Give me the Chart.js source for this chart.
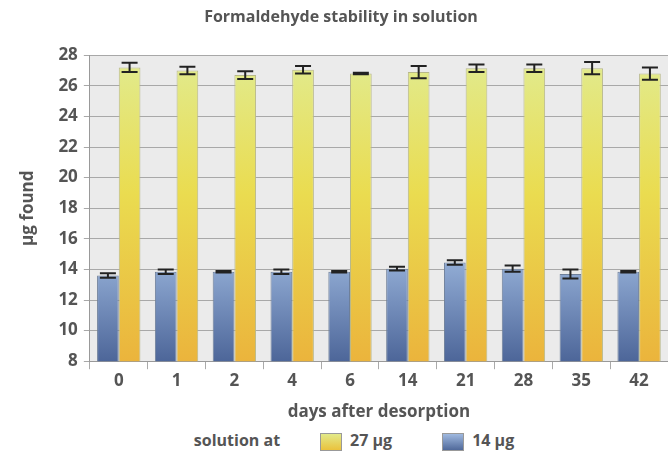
<!DOCTYPE html>
<html>
<head>
<meta charset="utf-8">
<script src="https://cdn.jsdelivr.net/npm/chart.js@4"></script>
<style>
  body { margin: 0; background: #fff; font-family: "Open Sans", sans-serif; }
  #wrap { position: relative; width: 668px; height: 426px; }
  #legend { display: flex; align-items: center; justify-content: center; gap: 10px;
    font-weight: bold; font-size: 16px; color: #555; margin-top: 3px; padding-left: 40px; }
  .box { display: inline-block; width: 20px; height: 16px; border: 1px solid #999; vertical-align: middle; margin: 0 8px 0 30px; }
</style>
</head>
<body>
<div id="wrap"><canvas id="c"></canvas></div>
<div id="legend">
  <span>solution at</span>
  <span><span class="box" style="background:linear-gradient(#e2ea8a,#eac23c)"></span>27 µg</span>
  <span><span class="box" style="background:linear-gradient(#9fb9e0,#50699a);margin-left:40px"></span>14 µg</span>
</div>
<script>
// ── Data ──────────────────────────────────────────────────────────────────────
const days = ["0", "1", "2", "4", "6", "14", "21", "28", "35", "42"];
const found14 = [13.6, 13.85, 13.85, 13.85, 13.85, 14.05, 14.45, 14.05, 13.7, 13.85];
const err14   = [0.15, 0.15, 0.05, 0.15, 0.05, 0.12, 0.15, 0.2, 0.3, 0.05];
const found27 = [27.2, 27.0, 26.7, 27.05, 26.8, 26.9, 27.15, 27.15, 27.15, 26.8];
const err27   = [0.3, 0.25, 0.25, 0.25, 0.05, 0.4, 0.25, 0.25, 0.4, 0.4];

const TXT = "#555";
const FONT = "'Open Sans', sans-serif";

function grad(ctx, area, stops) {
  const g = ctx.createLinearGradient(0, area.top, 0, area.bottom);
  stops.forEach(([p, c]) => g.addColorStop(p, c));
  return g;
}

// plot background
const bgPlugin = {
  id: "bg",
  beforeDraw(chart) {
    const { ctx, chartArea: a } = chart;
    ctx.save();
    ctx.fillStyle = "#ebebeb";
    ctx.fillRect(a.left, a.top, a.right - a.left, a.bottom - a.top);
    ctx.restore();
  },
};

// error bars from the named error arrays
const errPlugin = {
  id: "err",
  afterDatasetsDraw(chart) {
    const { ctx } = chart;
    const y = chart.scales.y;
    ctx.save();
    ctx.strokeStyle = "#222";
    ctx.lineWidth = 2;
    chart.data.datasets.forEach((ds, di) => {
      const meta = chart.getDatasetMeta(di);
      meta.data.forEach((bar, i) => {
        const v = ds.data[i], e = ds.err[i];
        const x = bar.x, w = 8;
        const y1 = y.getPixelForValue(v + e), y2 = y.getPixelForValue(v - e);
        ctx.beginPath();
        ctx.moveTo(x, y1); ctx.lineTo(x, y2);
        ctx.moveTo(x - w, y1); ctx.lineTo(x + w, y1);
        ctx.moveTo(x - w, y2); ctx.lineTo(x + w, y2);
        ctx.stroke();
      });
    });
    ctx.restore();
  },
};

new Chart(document.getElementById("c"), {
  type: "bar",
  data: {
    labels: days,
    datasets: [
      {
        label: "14 µg",
        data: found14,
        err: err14,
        backgroundColor: (c) => c.chart.chartArea ? grad(c.chart.ctx, c.chart.chartArea, [[0.6, "#a2bde3"], [1, "#4d6699"]]) : "#7a93c4",
        borderColor: "#6e7f99",
        borderWidth: 1,
      },
      {
        label: "27 µg",
        data: found27,
        err: err27,
        backgroundColor: (c) => c.chart.chartArea ? grad(c.chart.ctx, c.chart.chartArea, [[0, "#e1eb90"], [0.45, "#eadc50"], [1, "#ebb43c"]]) : "#eadc50",
        borderColor: "#b8b88a",
        borderWidth: 1,
      },
    ],
  },
  options: {
    responsive: true,
    maintainAspectRatio: false,
    animation: false,
    layout: { padding: { top: 0, right: 0, left: 14 } },
    datasets: { bar: { categoryPercentage: 0.75, barPercentage: 1 } },
    plugins: {
      legend: { display: false },
      tooltip: { enabled: false },
      title: {
        display: true,
        text: "Formaldehyde stability in solution",
        color: TXT,
        font: { family: FONT, size: 16, weight: "bold" },
        padding: { top: 8, bottom: 28 },
      },
    },
    scales: {
      x: {
        grid: { drawOnChartArea: false, color: "#aaa", tickLength: 8, offset: true },
        border: { color: "#999" },
        ticks: { color: TXT, font: { family: FONT, size: 17, weight: "bold" }, padding: 2 },
        title: { display: true, text: "days after desorption", color: TXT,
                 font: { family: FONT, size: 17, weight: "bold" }, padding: { top: 8 } },
      },
      y: {
        min: 8, max: 28,
        ticks: { stepSize: 2, color: TXT, font: { family: FONT, size: 17, weight: "bold" }, padding: 6 },
        grid: { color: "#a8a8a8", tickLength: 6 },
        border: { color: "#999" },
        title: { display: true, text: "µg found", color: TXT,
                 font: { family: FONT, size: 17, weight: "bold" }, padding: { bottom: 14 } },
      },
    },
  },
  plugins: [bgPlugin, errPlugin],
});
</script>
</body>
</html>
